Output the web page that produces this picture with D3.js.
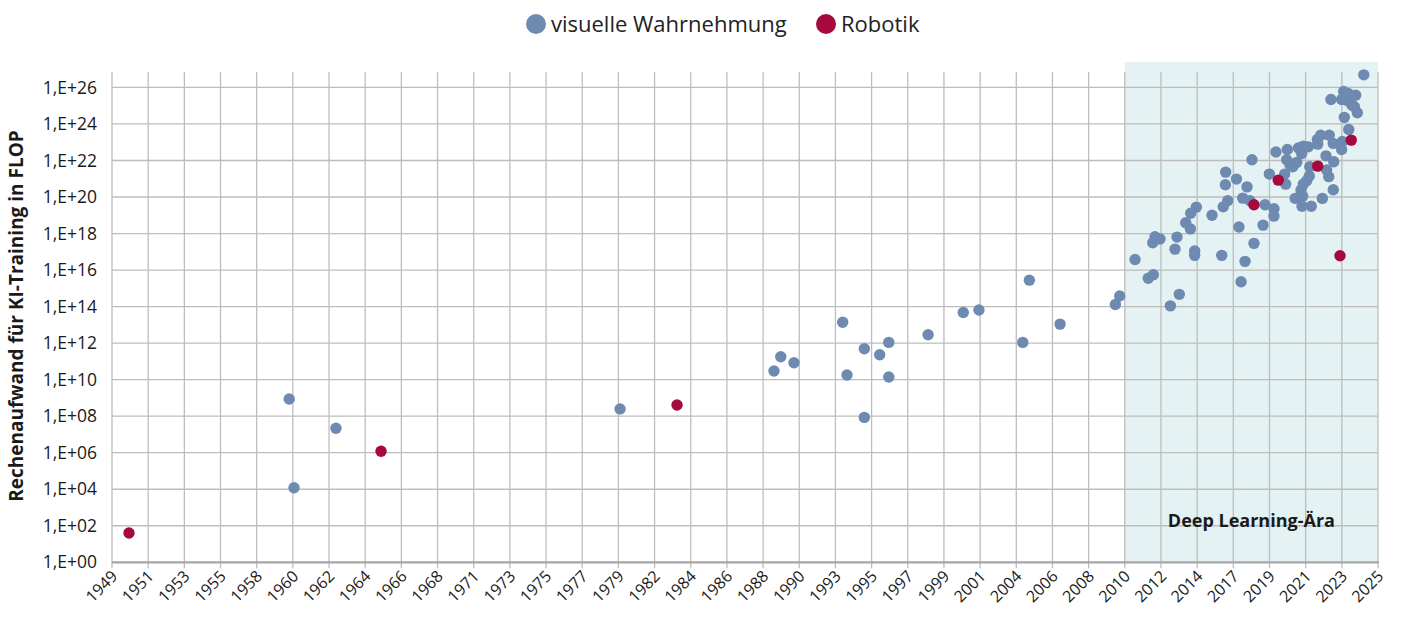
<!DOCTYPE html>
<html><head><meta charset="utf-8">
<script src="https://cdn.jsdelivr.net/npm/d3@7"></script>
<style>body{margin:0;background:#fff;} svg{display:block;font-family:"Open Sans",sans-serif;}</style>
</head><body>
<svg id="chart" width="1402" height="617"></svg>
<script>
// ---- data ----
const seriesNames = ["visuelle Wahrnehmung", "Robotik"];
const xTickLabels = ["1949","1951","1953","1955","1958","1960","1962","1964","1966","1968","1971","1973","1975","1977","1979","1982","1984","1986","1988","1990","1993","1995","1997","1999","2001","2004","2006","2008","2010","2012","2014","2017","2019","2021","2023","2025"];
const xDomain = [1949.27, 2025.92];
const yTickExponents = [0,2,4,6,8,10,12,14,16,18,20,22,24,26];
const yMax = 7e26;
const eraLabel = "Deep Learning-Ära";
const eraRange = [2010.59, 2025.92];

const visionYears = [1960.0,1960.29,1962.83,1980.03,1989.35,1989.76,1990.56,1993.51,1993.77,1994.82,1994.82,1995.75,1996.30,1996.30,1998.68,2000.81,2001.76,2004.41,2004.81,2006.67,2010.02,2010.28,
 2011.21,2012.01,2012.32,2012.28,2012.42,2012.72,2013.35,2013.63,2013.75,2013.89,2014.28,2014.56,2014.58,2014.92,2014.82,2014.82,
 2015.87,2016.46,2016.55,2016.82,2016.68,2016.70,2017.35,2017.99,2017.73,2017.50,2017.87,2017.63,2018.17,2019.08,2019.62,2019.62,2018.96,2018.41,2018.29,2019.34,2019.74,2020.33,2020.27,2020.43,
 2020.39,2020.59,2021.00,2020.76,2021.10,2021.40,2021.30,2021.70,2021.79,2021.76,2021.60,2021.40,2021.26,2020.91,2021.36,2021.32,2021.88,2022.55,2023.21,2022.77,2023.24,2022.81,2022.94,2022.25,2022.45,2022.97,2022.27,2023.21,2023.76,2023.72,2024.15,2023.88,2023.07,2023.84,2024.12,2024.57,2023.72,2024.03,2024.33,2024.49,2024.67,2025.06];
const visionFlop = [8.7e8,1.2e4,2.2e7,2.5e8,3.0e10,1.8e11,8.4e10,1.4e13,1.8e10,4.9e11,8.6e7,2.3e11,1.1e12,1.4e10,2.9e12,4.8e13,6.5e13,1.1e12,2.8e15,1.1e13,1.3e14,3.8e14,
 3.8e16,3.6e15,5.5e15,3.1e17,6.7e17,5.0e17,1.1e14,1.4e17,6.4e17,4.7e14,3.9e18,1.8e18,1.3e19,2.8e19,1.1e17,6.4e16,
 1.0e19,6.4e16,2.9e19,6.2e19,4.7e20,2.3e21,9.6e20,3.6e20,8.7e19,2.3e18,3.0e16,2.3e15,6.2e19,3.8e19,2.3e19,9.0e18,2.9e18,2.9e17,1.1e22,1.8e21,2.9e22,5.1e20,1.8e21,4.0e22,
 1.1e22,5.6e21,7.9e21,4.5e21,4.8e22,6.1e22,2.4e22,5.6e22,4.5e21,1.4e21,7.7e20,5.1e20,2.4e20,8.4e19,1.1e20,3.1e19,3.1e19,8.4e19,2.5e20,1.8e22,8.5e21,3.0e21,1.3e21,1.4e23,2.4e23,2.4e23,7.9e22,8.6e22,1.1e23,4.0e22,5.0e23,2.3e24,2.2e25,6.0e25,4.7e25,3.7e25,2.2e25,2.0e25,1.1e25,8.7e24,4.1e24,4.9e26];

const roboticsYears = [1950.30,1965.56,1983.48,2018.41,2019.88,2022.27,2023.62,2024.30];
const roboticsFlop = [4.0e1,1.2e6,4.1e8,3.8e19,8.4e20,4.9e21,6.1e16,1.3e23];

// ---- layout ----
const colors = ["#6E8AB0", "#A6093D"];
const svg = d3.select("#chart");
const x = d3.scaleLinear().domain(xDomain).range([112, 1378]);
const y = d3.scaleLog().domain([1, yMax]).range([562.3, 72]);
const step = (xDomain[1] - xDomain[0]) / (xTickLabels.length - 1);
const xTickVals = xTickLabels.map((d, i) => xDomain[0] + i * step);

// era shading
svg.append("rect")
  .attr("x", x(eraRange[0])).attr("y", 62)
  .attr("width", x(eraRange[1]) - x(eraRange[0]))
  .attr("height", y(1) - 62)
  .attr("fill", "#E4F2F3");

// vertical grid
svg.append("g").selectAll("line").data(xTickVals).join("line")
  .attr("x1", d => x(d)).attr("x2", d => x(d))
  .attr("y1", 72).attr("y2", y(1) + 6)
  .attr("stroke", "#BDBDBD").attr("stroke-width", 1.3);

// horizontal grid
svg.append("g").selectAll("line").data(yTickExponents.filter(e => e > 0)).join("line")
  .attr("x1", 112).attr("x2", 1378)
  .attr("y1", d => y(Math.pow(10, d))).attr("y2", d => y(Math.pow(10, d)))
  .attr("stroke", "#BDBDBD").attr("stroke-width", 1.3);

// x axis line
svg.append("line").attr("x1", 112).attr("x2", 1379).attr("y1", y(1)).attr("y2", y(1))
  .attr("stroke", "#A6A6A6").attr("stroke-width", 2.2);

// x tick labels
const xAxis = d3.axisBottom(x).tickValues(xTickVals).tickFormat((d, i) => xTickLabels[i]).tickSize(0).tickPadding(0);
const gx = svg.append("g").attr("transform", `translate(0,${y(1)})`).call(xAxis);
gx.select(".domain").remove();
gx.selectAll("text")
  .attr("font-family", "'Open Sans',sans-serif").attr("font-size", 16).attr("fill", "#1a1a1a")
  .attr("text-anchor", "end").attr("dy", 0).attr("y", 0)
  .attr("transform", "translate(6,15) rotate(-45)");

// y tick labels
const yAxis = d3.axisLeft(y).tickValues(yTickExponents.map(e => Math.pow(10, e)))
  .tickFormat(d => { const e = Math.round(Math.log10(d)); return "1,E+" + (e < 10 ? "0" + e : e); })
  .tickSize(0).tickPadding(0);
const gy = svg.append("g").attr("transform", "translate(97,0)").call(yAxis);
gy.select(".domain").remove();
gy.selectAll("text").attr("font-family", "'Open Sans',sans-serif").attr("font-size", 17.5).attr("fill", "#1a1a1a");

// y title
svg.append("text")
  .attr("transform", "translate(23,316) rotate(-90)")
  .attr("text-anchor", "middle")
  .attr("font-size", 19).attr("font-weight", "bold").attr("fill", "#1a1a1a")
  .text("Rechenaufwand für KI-Training in FLOP");

// era label
svg.append("text")
  .attr("x", (x(eraRange[0]) + x(eraRange[1])) / 2).attr("y", 527)
  .attr("text-anchor", "middle").attr("font-size", 18).attr("font-weight", "bold").attr("fill", "#1a1a1a")
  .text(eraLabel);

// points
const vision = visionYears.map((d, i) => ({year: d, flop: visionFlop[i]}));
const robotics = roboticsYears.map((d, i) => ({year: d, flop: roboticsFlop[i]}));
svg.append("g").selectAll("circle").data(vision).join("circle")
  .attr("cx", d => x(d.year)).attr("cy", d => y(d.flop)).attr("r", 5.7).attr("fill", colors[0]);
svg.append("g").selectAll("circle").data(robotics).join("circle")
  .attr("cx", d => x(d.year)).attr("cy", d => y(d.flop)).attr("r", 5.7).attr("fill", colors[1]);

// legend
const legendX = [536, 826];
const lg = svg.append("g").selectAll("g").data(seriesNames).join("g")
  .attr("transform", (d, i) => `translate(${legendX[i]},24)`);
lg.append("circle").attr("r", 10).attr("fill", (d, i) => colors[i]);
lg.append("text").attr("x", 15).attr("dy", "0.35em").attr("font-size", 22).attr("fill", "#222").text(d => d);
</script>
</body></html>
